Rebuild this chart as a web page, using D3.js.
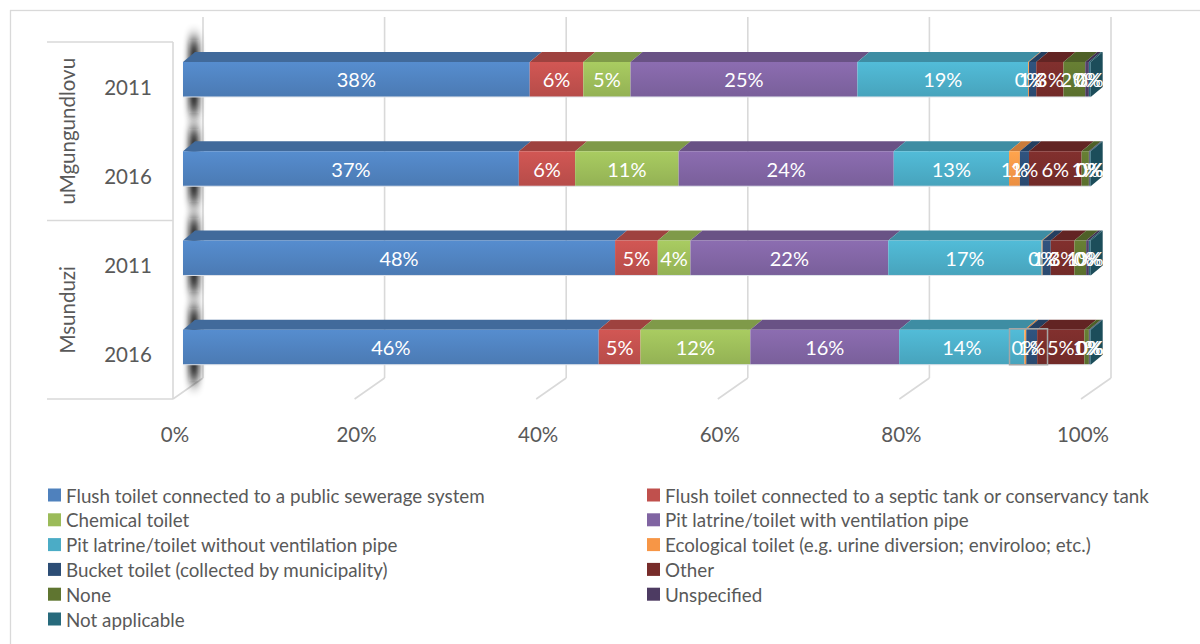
<!DOCTYPE html>
<html>
<head>
<meta charset="utf-8">
<script src="https://cdn.jsdelivr.net/npm/d3@7"></script>
<style>
  html, body { margin: 0; padding: 0; background: #fff; }
  svg { display: block; font-family: Lato, "Open Sans", sans-serif; }
</style>
</head>
<body>
<svg id="chart" width="1200" height="644"></svg>
<script>
// Rows of the chart (top to bottom)
const groups = ["uMgungundlovu", "uMgungundlovu", "Msunduzi", "Msunduzi"];
const years = ["2011", "2016", "2011", "2016"];

// Share of households by toilet facility, per row (%)
const flushPublic   = [38.2, 37.0, 47.6, 45.8];
const flushSeptic   = [5.9, 6.2, 4.7, 4.6];
const chemical      = [5.2, 11.4, 3.6, 12.1];
const pitVent       = [25.0, 23.7, 21.8, 16.4];
const pitNoVent     = [18.8, 12.7, 16.9, 13.8];
const ecological    = [0.1, 1.2, 0.1, 0.2];
const bucket        = [0.8, 1.0, 0.9, 1.2];
const other         = [3.0, 5.8, 2.6, 5.2];
const none          = [2.4, 0.8, 1.3, 0.5];
const unspecified   = [0.4, 0.1, 0.3, 0.1];
const notApplicable = [0.2, 0.1, 0.2, 0.1];

const seriesNames = [
  "Flush toilet connected to a public sewerage system",
  "Flush toilet connected to a septic tank or conservancy tank",
  "Chemical toilet",
  "Pit latrine/toilet with ventilation pipe",
  "Pit latrine/toilet without ventilation pipe",
  "Ecological toilet (e.g. urine diversion; enviroloo; etc.)",
  "Bucket toilet (collected by municipality)",
  "Other",
  "None",
  "Unspecified",
  "Not applicable"
];
const seriesData = [flushPublic, flushSeptic, chemical, pitVent, pitNoVent,
  ecological, bucket, other, none, unspecified, notApplicable];
const seriesColors = ["#4F81BD", "#C0504D", "#9BBB59", "#8064A2", "#4BACC6",
  "#F79646", "#2C4D75", "#772C2A", "#5F7530", "#4D3B62", "#276A7C"];

const xTicks = [0, 20, 40, 60, 80, 100];

// ---- table for d3.stack ----
const rows = years.map((y, i) => {
  const r = { id: i, group: groups[i], year: y };
  seriesNames.forEach((n, k) => { r[n] = seriesData[k][i]; });
  return r;
});
const stacked = d3.stack().keys(seriesNames)(rows);

const svg = d3.select("#chart");
const gridColor = "#d9d9d9";
const textColor = "#595959";

// ---- 3D geometry ----
const plotTop = 17, backBottom = 378, frontBottom = 399, catTop = 42;
const xFront = d3.scaleLinear().domain([0, 100]).range([183, 1090.7]);  // bar front faces
const xBack  = d3.scaleLinear().domain([0, 100]).range([203, 1111]);    // back wall
const xFloor = d3.scaleLinear().domain([0, 100]).range([173, 1081]);    // front floor edge
const yBand  = d3.scaleBand().domain(rows.map(r => r.id)).range([catTop, frontBottom]);
const barOffset = 0.224, barFrac = 0.392;  // bar front face within its band
const depthX = 12, depthY = -10;            // bar depth projection

const defs = svg.append("defs");
defs.append("filter").attr("id", "wallShadow")
  .attr("x", "-150%").attr("y", "-50%").attr("width", "400%").attr("height", "200%")
  .append("feGaussianBlur").attr("stdDeviation", "3 8");

seriesColors.forEach((c, k) => {
  const g = defs.append("linearGradient").attr("id", "front" + k)
    .attr("x1", 0).attr("y1", 0).attr("x2", 0).attr("y2", 1);
  g.append("stop").attr("offset", "0%").attr("stop-color", d3.color(c).brighter(0.25));
  g.append("stop").attr("offset", "100%").attr("stop-color", d3.color(c).darker(0.15));
});

// outer chart frame
svg.append("rect").attr("x", 10.5).attr("y", 10.5).attr("width", 1300).attr("height", 800)
  .attr("fill", "none").attr("stroke", gridColor).attr("stroke-width", 1.3);

// back wall gridlines and floor ticks
const grid = svg.append("g").attr("stroke", gridColor).attr("stroke-width", 1.6).attr("fill", "none");
xTicks.forEach(t => {
  grid.append("line").attr("x1", xBack(t)).attr("x2", xBack(t))
    .attr("y1", plotTop).attr("y2", backBottom);
  grid.append("line").attr("x1", xBack(t)).attr("x2", xFloor(t))
    .attr("y1", backBottom).attr("y2", frontBottom);
});

// category axis frame
const cat = svg.append("g").attr("stroke", gridColor).attr("stroke-width", 1.6);
cat.append("line").attr("x1", xFloor(0)).attr("x2", xFloor(0)).attr("y1", catTop).attr("y2", frontBottom);
const groupNames = Array.from(new Set(groups));
const groupEdges = [catTop];
groupNames.forEach(gn => {
  const ids = rows.filter(r => r.group === gn).map(r => r.id);
  groupEdges.push(yBand(ids[ids.length - 1]) + yBand.bandwidth());
});
groupEdges.forEach(y => {
  cat.append("line").attr("x1", 47).attr("x2", xFloor(0)).attr("y1", y).attr("y2", y);
});

// shadows of the bars on the side wall
svg.append("g").selectAll("rect").data(rows).join("rect")
  .attr("x", xFront(0) + 6)
  .attr("width", xBack(0) - xFront(0) - 10)
  .attr("y", d => yBand(d.id) + yBand.bandwidth() * barOffset - 22)
  .attr("height", yBand.bandwidth() * barFrac + 38)
  .attr("fill", "#111").attr("opacity", 0.95)
  .attr("filter", "url(#wallShadow)");

// bars
const bars = svg.append("g");
const labelLayer = svg.append("g");
stacked.forEach((layer, k) => {
  layer.forEach((seg, i) => {
    const y0 = yBand(i) + yBand.bandwidth() * barOffset;
    const h = yBand.bandwidth() * barFrac;
    const x0 = xFront(seg[0]), x1 = xFront(seg[1]);
    const c = seriesColors[k];
    // top face
    bars.append("path")
      .attr("d", `M${x0},${y0}L${x1},${y0}L${x1 + depthX},${y0 + depthY}L${x0 + depthX},${y0 + depthY}Z`)
      .attr("fill", d3.color(c).darker(0.55));
    // front face
    bars.append("rect").attr("x", x0).attr("y", y0).attr("width", Math.max(0, x1 - x0)).attr("height", h)
      .attr("fill", `url(#front${k})`);
    // right end face of the last segment
    if (k === stacked.length - 1) {
      bars.append("path")
        .attr("d", `M${x1},${y0}L${x1 + depthX},${y0 + depthY}L${x1 + depthX},${y0 + h + depthY}L${x1},${y0 + h}Z`)
        .attr("fill", d3.color(c).darker(0.9));
    }
    labelLayer.append("text")
      .attr("class", "seg-label s" + k + " r" + i)
      .attr("x", (x0 + x1) / 2).attr("y", y0 + h / 2)
      .attr("text-anchor", "middle").attr("dominant-baseline", "central")
      .attr("fill", "#fff").attr("font-size", 20)
      .text(Math.round(seg.data[seriesNames[k]]) + "%");
  });
});
// thin light edge under each bar
bars.selectAll("line.edge").data(rows).join("line").attr("class", "edge")
  .attr("x1", xFront(0)).attr("x2", xFront(100))
  .attr("y1", d => yBand(d.id) + yBand.bandwidth() * (barOffset + barFrac))
  .attr("y2", d => yBand(d.id) + yBand.bandwidth() * (barOffset + barFrac))
  .attr("stroke", "#dfe3ea").attr("stroke-width", 1);

// selected label box (ecological + bucket labels of the last row)
{
  const nodes = labelLayer.selectAll("text.r3").filter(function () {
    return this.classList.contains("s5") || this.classList.contains("s6");
  }).nodes();
  const boxes = nodes.map(n => n.getBBox());
  const bx0 = d3.min(boxes, b => b.x) - 2, bx1 = d3.max(boxes, b => b.x + b.width) + 2;
  const by0 = yBand(3) + yBand.bandwidth() * barOffset - 1;
  const by1 = by0 + yBand.bandwidth() * barFrac + 1;
  labelLayer.append("rect").attr("x", bx0).attr("y", by0).attr("width", bx1 - bx0).attr("height", by1 - by0)
    .attr("fill", "none").attr("stroke", "#a6a6a6").attr("stroke-width", 1.5);
}

// value axis labels
svg.append("g").selectAll("text").data(xTicks).join("text")
  .attr("x", d => xFloor(d) + 2).attr("y", 434)
  .attr("text-anchor", "middle").attr("dominant-baseline", "central")
  .attr("fill", textColor).attr("font-size", 20.5)
  .text(d => d + "%");

// year labels
svg.append("g").selectAll("text").data(rows).join("text")
  .attr("x", 128).attr("y", d => yBand(d.id) + yBand.bandwidth() / 2)
  .attr("text-anchor", "middle").attr("dominant-baseline", "central")
  .attr("fill", textColor).attr("font-size", 20.5)
  .text(d => d.year);

// group labels
groupNames.forEach((gn, gi) => {
  const yc = (groupEdges[gi] + groupEdges[gi + 1]) / 2;
  svg.append("text")
    .attr("transform", `translate(67,${yc}) rotate(-90)`)
    .attr("text-anchor", "middle").attr("dominant-baseline", "central")
    .attr("fill", textColor).attr("font-size", 20.5)
    .text(gn);
});

// legend (two columns)
const legend = svg.append("g").attr("font-size", 18.8).attr("fill", textColor);
seriesNames.forEach((n, k) => {
  const col = k % 2, row = Math.floor(k / 2);
  const lx = col === 0 ? 48 : 647;
  const ly = 495 + row * 24.8;
  legend.append("rect").attr("x", lx).attr("y", ly - 6.5).attr("width", 13).attr("height", 13)
    .attr("fill", seriesColors[k]);
  legend.append("text").attr("x", lx + 18).attr("y", ly)
    .attr("dominant-baseline", "central").text(n);
});
</script>
</body>
</html>
